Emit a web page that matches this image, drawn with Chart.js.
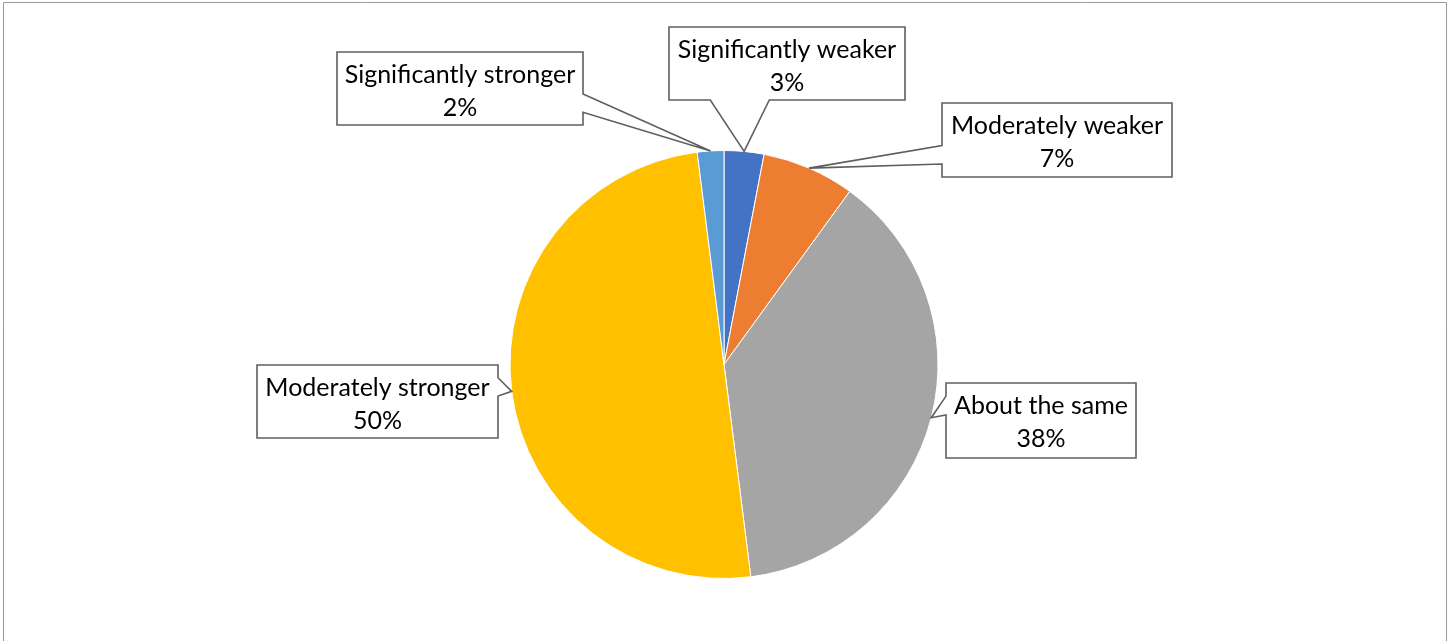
<!DOCTYPE html>
<html lang="en">
<head>
    <meta charset="UTF-8">
    <title>Strength compared</title>
    <script src="https://cdn.jsdelivr.net/npm/chart.js"></script>
    <style>
        body {
            margin: 0;
            background: #fff;
        }

        .chart-container {
            position: relative;
            width: 1450px;
            height: 641px;
        }
    </style>
</head>
<body>

    <div class="chart-container">
        <canvas id="pieChart"></canvas>
    </div>

    <script>
        // Data
        const categories = ['Significantly weaker', 'Moderately weaker', 'About the same', 'Moderately stronger', 'Significantly stronger'];
        const shares = [3, 7, 38, 50, 2];
        const sliceColors = ['#4472C4', '#ED7D31', '#A5A5A5', '#FFC000', '#5B9BD5'];

        // Callout boxes: rectangle and which side the pointer leaves from
        const callouts = [
            { x: 669, y: 27,  w: 236, h: 73, side: 'bottom' },
            { x: 942, y: 103, w: 230, h: 74, side: 'left' },
            { x: 946, y: 383, w: 190, h: 75, side: 'left' },
            { x: 257, y: 365, w: 241, h: 73, side: 'right' },
            { x: 337, y: 52,  w: 246, h: 73, side: 'right' }
        ];

        const FONT = '25px Lato, Carlito, Calibri, sans-serif';

        // Thin grey frame round the whole chart
        const framePlugin = {
            id: 'frame',
            beforeDraw(chart) {
                const ctx = chart.ctx;
                ctx.save();
                ctx.strokeStyle = '#9a9a9a';
                ctx.lineWidth = 1;
                ctx.beginPath();
                ctx.moveTo(3.5, chart.height + 5);
                ctx.lineTo(3.5, 2.5);
                ctx.lineTo(1446.5, 2.5);
                ctx.lineTo(1446.5, chart.height + 5);
                ctx.stroke();
                ctx.restore();
            }
        };

        // Boxed labels with a wedge pointing at the middle of each slice
        const calloutPlugin = {
            id: 'callouts',
            afterDatasetsDraw(chart) {
                const ctx = chart.ctx;
                const meta = chart.getDatasetMeta(0);
                ctx.save();
                meta.data.forEach((arc, i) => {
                    const box = callouts[i];
                    if (!box) return;
                    const p = arc.getProps(['x', 'y', 'startAngle', 'endAngle', 'outerRadius'], true);
                    const mid = (p.startAngle + p.endAngle) / 2;
                    const tx = p.x + Math.cos(mid) * p.outerRadius;
                    const ty = p.y + Math.sin(mid) * p.outerRadius;

                    const L = box.x, T = box.y, R = box.x + box.w, B = box.y + box.h;
                    const vertical = box.side === 'left' || box.side === 'right';
                    const len = vertical ? box.h : box.w;
                    const t = vertical ? (ty - T) / box.h : (tx - L) / box.w;
                    const c = (t < 0.5 ? 0.3 : 0.7) * len;
                    const a = c - len * 0.125;
                    const b = c + len * 0.125;

                    ctx.beginPath();
                    ctx.moveTo(L, T);
                    ctx.lineTo(R, T);
                    if (box.side === 'right') {
                        ctx.lineTo(R, T + a);
                        ctx.lineTo(tx, ty);
                        ctx.lineTo(R, T + b);
                    }
                    ctx.lineTo(R, B);
                    if (box.side === 'bottom') {
                        ctx.lineTo(L + b, B);
                        ctx.lineTo(tx, ty);
                        ctx.lineTo(L + a, B);
                    }
                    ctx.lineTo(L, B);
                    if (box.side === 'left') {
                        ctx.lineTo(L, T + b);
                        ctx.lineTo(tx, ty);
                        ctx.lineTo(L, T + a);
                    }
                    ctx.closePath();
                    ctx.fillStyle = '#fff';
                    ctx.fill();
                    ctx.strokeStyle = '#5f5f5f';
                    ctx.lineWidth = 1.6;
                    ctx.stroke();

                    ctx.fillStyle = '#000';
                    ctx.font = FONT;
                    ctx.textAlign = 'center';
                    ctx.textBaseline = 'alphabetic';
                    const cx = L + box.w / 2;
                    ctx.fillText(chart.data.labels[i], cx, T + 31);
                    ctx.fillText(chart.data.datasets[0].data[i] + '%', cx, T + 64);
                });
                ctx.restore();
            }
        };

        const ctx = document.getElementById('pieChart').getContext('2d');
        const pieChart = new Chart(ctx, {
            type: 'pie',
            data: {
                labels: categories,
                datasets: [{
                    data: shares,
                    backgroundColor: sliceColors,
                    borderColor: '#fff',
                    borderWidth: 1
                }]
            },
            options: {
                responsive: true,
                maintainAspectRatio: false,
                animation: false,
                radius: 214,
                layout: {
                    padding: { top: 88, right: 2 }
                },
                plugins: {
                    legend: { display: false },
                    tooltip: { enabled: false }
                }
            },
            plugins: [framePlugin, calloutPlugin]
        });
    </script>

</body>
</html>
